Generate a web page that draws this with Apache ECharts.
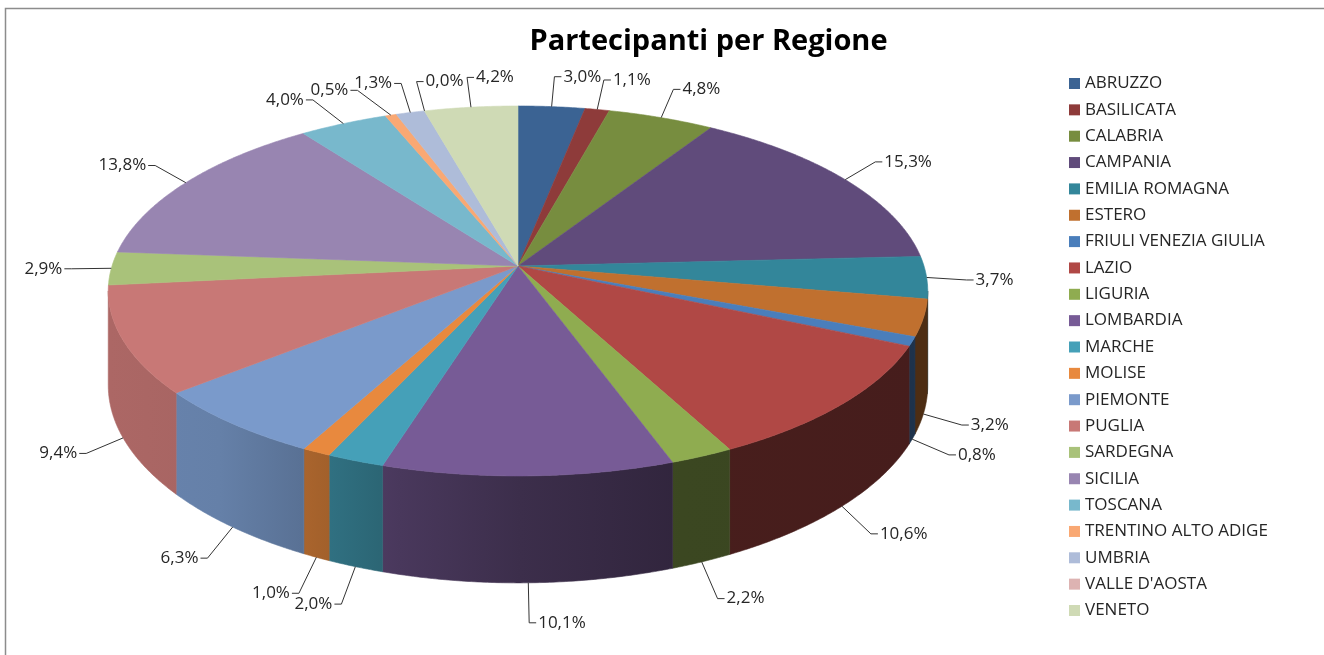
<!DOCTYPE html>
<html><head><meta charset="utf-8">
<script src="https://cdn.jsdelivr.net/npm/echarts/dist/echarts.min.js"></script>
<style>html,body{margin:0;padding:0;background:#fff}#c{width:1324px;height:655px}</style>
</head><body><div id="c"></div>
<script>
const categories = ['ABRUZZO','BASILICATA','CALABRIA','CAMPANIA','EMILIA ROMAGNA','ESTERO','FRIULI VENEZIA GIULIA','LAZIO','LIGURIA','LOMBARDIA','MARCHE','MOLISE','PIEMONTE','PUGLIA','SARDEGNA','SICILIA','TOSCANA','TRENTINO ALTO ADIGE','UMBRIA',"VALLE D'AOSTA",'VENETO'];
const values = [3.0,1.1,4.8,15.3,3.7,3.2,0.8,10.6,2.2,10.1,2.0,1.0,6.3,9.4,2.9,13.8,4.0,0.5,1.3,0.0,4.2];
const colors = ['#3b6393','#8e3b3a','#778d3f','#604b7b','#33869a','#c0702f','#4a7ebb','#b04845','#8fac50','#775b96','#45a0b8','#e8893e','#7a9acb','#c87876','#a9c27a','#9885b1','#78b8cc','#f9a873','#aebcd9','#ddb3b2','#cfdab5'];
const titleText = 'Partecipanti per Regione';

const FONT = '"Open Sans", "Noto Sans", sans-serif';
const LBL_SIZE = 17;
const labelTexts = values.map(v => v.toFixed(1).replace('.', ',') + '%');

// geometry of the 3D pie (layout only)
const G = {cx:518, cy:266, R:406, A:181.6, b:0.135, D:92.5};
const TAU = Math.PI * 2;
function proj(th, r, down) {
  const u = r * Math.sin(th), v = -r * Math.cos(th), w = 1 / (1 - G.b * v);
  return [G.cx + G.R * u * w, G.cy + (G.A * v + (down ? G.D : 0)) * w];
}
const S1 = Math.acos(-G.b), S2 = TAU - S1;
const isFront = th => th > S1 && th < S2;

const total = values.reduce((a, b) => a + b, 0);
const startA = [], endA = [], midA = [];
let acc = 0;
values.forEach((v, i) => { startA[i] = acc / total * TAU; acc += v; endA[i] = acc / total * TAU; midA[i] = (startA[i] + endA[i]) / 2; });

// label layout with simple overlap avoidance
const TICK = 7;
const mctx = document.createElement('canvas').getContext('2d');
mctx.font = LBL_SIZE + 'px ' + FONT;
function labelAt(phi, txt) {
  const p = proj(phi, 1, isFront(phi));
  const lead = 40 - 10 * Math.max(0, Math.cos(phi));
  const E = [p[0] + Math.sin(phi) * lead, p[1] - Math.cos(phi) * lead];
  const right = Math.sin(phi) >= 0 || Math.cos(phi) > 0.965;
  const w = mctx.measureText(txt).width;
  const tx = right ? E[0] + TICK + 2 : E[0] - TICK - 2;
  const x0 = right ? tx : tx - w;
  return {E, right, tx, box: [x0 - 2, E[1] - 10, x0 + w + 2, E[1] + 10]};
}
const overlaps = (a, list) => list.some(b => a[0] < b[2] && a[2] > b[0] && a[1] < b[3] && a[3] > b[1]);
const layout = [];
const placed = [];
const step = 0.5 * Math.PI / 180;
const rightIdx = values.map((_, i) => i).filter(i => midA[i] < Math.PI).sort((a, b) => midA[a] - midA[b]);
const leftIdx = values.map((_, i) => i).filter(i => midA[i] >= Math.PI).sort((a, b) => midA[b] - midA[a]);
[[rightIdx, 1], [leftIdx, -1]].forEach(([idx, dir]) => {
  idx.forEach(i => {
    let phi = midA[i], L = labelAt(phi, labelTexts[i]), k = 0;
    while (overlaps(L.box, placed) && k < 200) { phi += dir * step; L = labelAt(phi, labelTexts[i]); k++; }
    placed.push(L.box);
    L.P = proj(midA[i], 1, isFront(midA[i]));
    layout[i] = L;
  });
});

function hexRgb(h) { return [parseInt(h.slice(1,3),16), parseInt(h.slice(3,5),16), parseInt(h.slice(5,7),16)]; }
function shade(h, f) { const c = hexRgb(h).map(x => Math.round(x * f)); return 'rgb(' + c.join(',') + ')'; }
const SHADE = [[110,0.86],[220,0.83],[330,0.70],[400,0.61],[520,0.50],[680,0.41],[930,0.40]];
function wallFill(h) {
  return {type:'linear', x:110, y:0, x2:930, y2:0, global:true,
    colorStops: SHADE.map(([x, f]) => ({offset:(x - 110) / 820, color: shade(h, f)}))};
}
function arcPts(a, b, down) {
  const n = Math.max(2, Math.ceil((b - a) / (0.4 * Math.PI / 180)));
  const pts = [];
  for (let k = 0; k <= n; k++) pts.push(proj(a + (b - a) * k / n, 1, down));
  return pts;
}

function renderItem(params, api) {
  const i = params.dataIndex;
  const col = colors[i];
  const a0 = startA[i], a1 = endA[i];
  const children = [];
  if (a1 > a0) {
    const top = [[G.cx, G.cy]].concat(arcPts(a0, a1, false));
    children.push({type:'polygon', z2:5, shape:{points:top}, style:{fill:col, stroke:col, lineWidth:0.6}});
    const lo = Math.max(a0, S1), hi = Math.min(a1, S2);
    if (hi > lo) {
      const wall = arcPts(lo, hi, false).concat(arcPts(lo, hi, true).reverse());
      const wf = wallFill(col);
      children.push({type:'polygon', z2:1, shape:{points:wall}, style:{fill:wf, stroke:wf, lineWidth:0.6}});
    }
  }
  const L = layout[i];
  const tickEnd = [L.E[0] + (L.right ? TICK : -TICK), L.E[1]];
  children.push({type:'polyline', z2:8, shape:{points:[L.P, L.E, tickEnd]}, style:{stroke:'#333333', lineWidth:1, fill:null}});
  children.push({type:'text', z2:9, style:{text:labelTexts[i], x:L.tx, y:L.E[1], fill:'#262626',
    font:LBL_SIZE + 'px ' + FONT, align: L.right ? 'left' : 'right', verticalAlign:'middle'}});
  return {type:'group', children};
}

const chart = echarts.init(document.getElementById('c'), null, {renderer:'canvas'});
mctx.font = 'bold 29px ' + FONT;
const titleW = mctx.measureText(titleText).width;

chart.setOption({
  animation:false,
  backgroundColor:'#ffffff',
  title:{text:titleText, left: 708.5 - titleW / 2 - 5, top: 22,
    textStyle:{fontFamily:FONT, fontWeight:'bold', fontSize:29, color:'#000'}},
  legend:{orient:'vertical', left:1064, top:70, itemWidth:11, itemHeight:11, itemGap:9.35, icon:'rect',
    selectedMode:false, data:categories,
    textStyle:{fontFamily:FONT, fontSize:17, color:'#262626', lineHeight:17}},
  graphic:[{type:'polyline', shape:{points:[[5.5,660],[5.5,8.5],[1330,8.5]]}, style:{stroke:'#8c8c8c', lineWidth:1.5, fill:null}, silent:true}],
  series:[
    {type:'custom', name:'Partecipanti', coordinateSystem:'none', renderItem,
     data: values.map((v, i) => ({name:categories[i], value:[i, v]}))},
    {type:'pie', name:'legend', radius:[0, 1], center:[-50, -50], silent:true,
     label:{show:false}, labelLine:{show:false},
     data: values.map((v, i) => ({name:categories[i], value:v, itemStyle:{color:colors[i]}}))}
  ]
});
</script></body></html>
